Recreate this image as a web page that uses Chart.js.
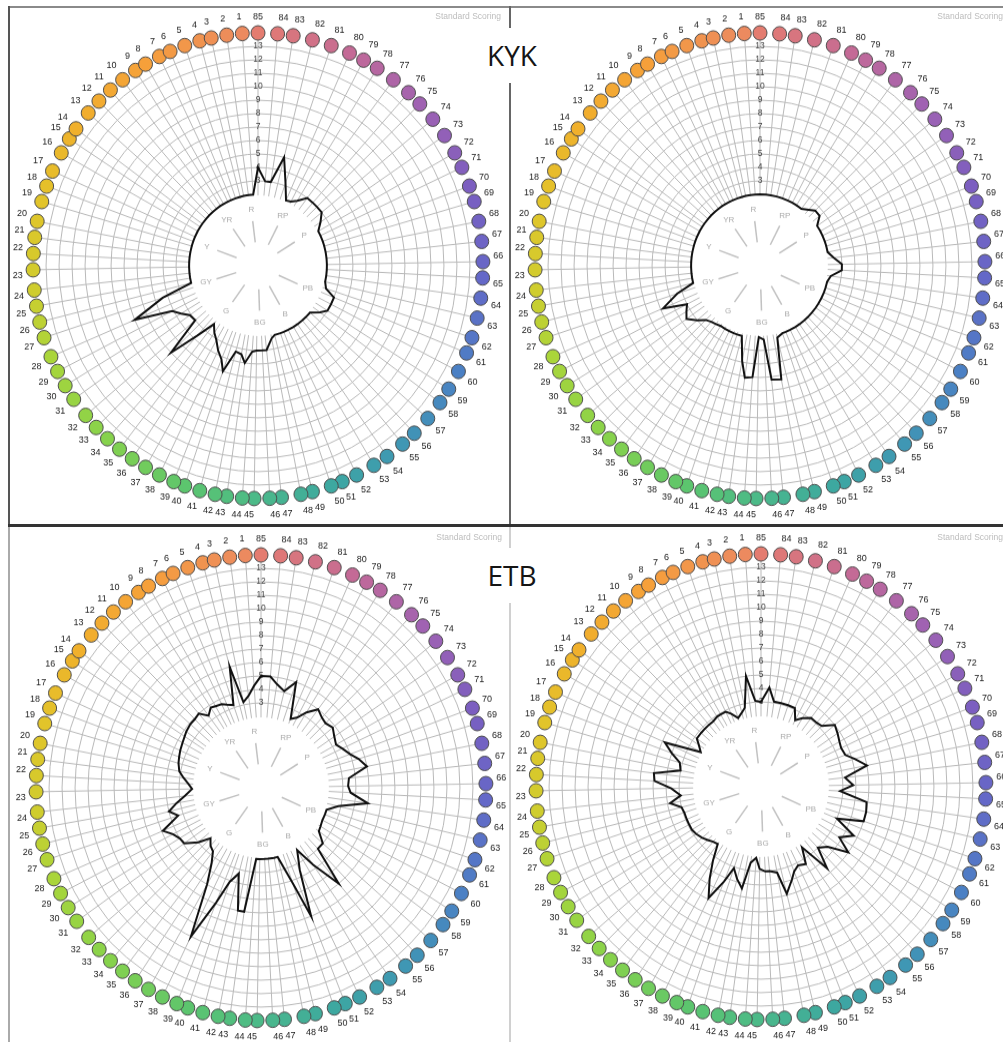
<!DOCTYPE html>
<html>
<head>
<meta charset="utf-8">
<script src="https://cdn.jsdelivr.net/npm/chart.js@4"></script>
<style>
  html, body { margin: 0; padding: 0; background: #fff; }
  body { width: 1003px; height: 1042px; position: relative; overflow: hidden; font-family: "Open Sans", sans-serif; }
  .rule { position: absolute; }
  .panel { position: absolute; width: 500px; height: 500px; transform: scaleY(1.035); transform-origin: 0 0; }
  .title { position: absolute; left: 482px; width: 60px; height: 55px; line-height: 55px; text-align: center; background: #fff; font-size: 28px; color: #151515; }
  .scoring { position: absolute; width: 120px; text-align: right; font-size: 8.5px; color: #bdbdbd; font-family: "Liberation Sans", sans-serif; }
</style>
</head>
<body>
<div class="rule" style="left:8px;top:6px;width:995px;height:2px;background:#8a8a8a"></div>
<div class="rule" style="left:8px;top:6px;width:2px;height:520px;background:#555"></div>
<div class="rule" style="left:509px;top:6px;width:2px;height:520px;background:#666"></div>
<div class="rule" style="left:8px;top:524px;width:995px;height:3px;background:#333"></div>
<div class="rule" style="left:8px;top:527px;width:2px;height:515px;background:#aaa"></div>
<div class="rule" style="left:509px;top:527px;width:2px;height:515px;background:#d0d0d0"></div>

<div class="panel" style="left:8px;top:8px"><canvas id="kykLeft" width="500" height="500"></canvas></div>
<div class="panel" style="left:510px;top:8px"><canvas id="kykRight" width="500" height="500"></canvas></div>
<div class="panel" style="left:11px;top:530px"><canvas id="etbLeft" width="500" height="500"></canvas></div>
<div class="panel" style="left:511px;top:529px"><canvas id="etbRight" width="500" height="500"></canvas></div>

<div class="title" style="top:28px">KYK</div>
<div class="title" style="top:548px">ETB</div>
<div class="scoring" style="left:381px;top:11px">Standard Scoring</div>
<div class="scoring" style="left:883px;top:11px">Standard Scoring</div>
<div class="scoring" style="left:382px;top:532px">Standard Scoring</div>
<div class="scoring" style="left:883px;top:532px">Standard Scoring</div>

<script>
// cap numbers of the 85-hue test
const capNumbers = [
  1, 2, 3, 4, 5, 6, 7, 8, 9, 10, 11, 12, 13, 14, 15, 16, 17, 18, 19, 20,
  21, 22, 23, 24, 25, 26, 27, 28, 29, 30, 31, 32, 33, 34, 35, 36, 37, 38, 39, 40,
  41, 42, 43, 44, 45, 46, 47, 48, 49, 50, 51, 52, 53, 54, 55, 56, 57, 58, 59, 60,
  61, 62, 63, 64, 65, 66, 67, 68, 69, 70, 71, 72, 73, 74, 75, 76, 77, 78, 79, 80,
  81, 82, 83, 84, 85
];

// hue angle (deg, clockwise from R at top) where each cap sits on the ring
const capHueAngle = [
  356, 352, 348, 345, 341, 337, 334, 330, 327, 323, 319, 315, 311, 306, 303, 299, 294, 290, 286, 281,
  277, 273, 269, 264, 260, 256, 252, 247, 243, 239, 235, 230, 226, 222, 218, 214, 210, 206, 202, 199,
  195, 191, 188, 184, 181, 177, 174, 169, 166, 161, 158, 154, 149, 145, 140, 136, 131, 126, 122, 117,
  112, 108, 103, 98, 93, 89, 84, 79, 74, 70, 65, 61, 56, 51, 46, 42, 37, 32, 28, 24,
  19, 14, 9, 5, 0
];

// error score per cap, caps 1..85
const kykLeft = [
  2, 2, 2, 2, 2, 2, 2, 2, 2, 2,
  2, 2, 2, 2, 2, 2, 2, 2, 2, 2,
  2, 2, 2, 2, 2, 2, 4.4, 7, 4.1, 3.6,
  3.1, 3, 6, 3.7, 2.2, 2.7, 3.1, 3.7, 4.2, 5,
  3.3, 3.4, 4, 3.1, 3, 3, 3, 2.2, 2, 2,
  2, 2, 2, 2, 2, 2, 2, 2.6, 3, 3,
  3, 2.2, 2, 2, 2, 2, 2, 2, 2, 2,
  2, 2, 2.5, 3, 3, 3, 3, 2.4, 2.1, 2,
  3.2, 5, 3, 3, 4
];
const kykRight = [
  2, 2, 2, 2, 2, 2, 2, 2, 2, 2,
  2, 2, 2, 2, 2, 2, 2, 2, 2, 2,
  2, 2, 2, 2, 2, 2, 3.4, 4.8, 3, 3.3,
  3.6, 3, 2.5, 2.3, 2.2, 2.1, 2.1, 2.1, 2.1, 2.1,
  2.1, 3.9, 5.1, 5, 2, 2.2, 5.2, 5.3, 2.2, 2,
  2, 2, 2, 2, 2, 2, 2, 2, 2, 2,
  2, 2, 2, 2.2, 3, 3, 2.4, 2, 2, 2,
  2, 2, 2, 2.6, 2.6, 2.3, 2, 2, 2, 2,
  2, 2, 2, 2, 2
];
const etbLeft = [
  4.3, 3.6, 3.2, 6, 3.2, 3.4, 3.6, 3.7, 3.8, 3.4,
  4, 3.9, 3.9, 3.8, 3.7, 3.6, 3.5, 3.4, 3.3, 3.1,
  2.7, 2.3, 2, 2.6, 3.3, 4, 3.4, 4.9, 4.3, 4,
  3.9, 3, 2.1, 2.5, 2.7, 3.5, 5, 9, 5.9, 4.1,
  3.3, 6, 6, 2, 2, 2, 2, 2, 2, 4.2,
  7, 3.5, 2.1, 3.7, 6, 3, 3, 2.2, 2.1, 2,
  2, 2, 2.8, 5, 3.6, 3.4, 3.5, 5, 4.5, 4,
  3.6, 3.3, 3.5, 3.8, 3.6, 3.7, 4, 3.3, 2.6, 2.3,
  5, 4.1, 4.5, 5, 5
];
const etbRight = [
  3.1, 5, 2.7, 2.4, 2.1, 2.6, 2.9, 2.9, 2.9, 2.8,
  2.8, 2.8, 2.8, 2.8, 2.4, 2, 4.8, 4, 3.2, 3,
  5, 4.9, 3.6, 2.9, 3.8, 3, 2.9, 2.9, 2.9, 2.9,
  2.8, 2.6, 2.4, 2.2, 2.1, 3.3, 4.6, 5.9, 4.3, 3.1,
  3.8, 4.4, 2.4, 2, 2.8, 3, 3, 3.2, 4.9, 4,
  3.5, 3.2, 3.4, 2.2, 4.6, 3, 3.5, 5, 3.8, 4.7,
  3, 5, 5, 4.9, 2.8, 3.8, 3.2, 5, 4.2, 3.6,
  3.5, 3.6, 3.8, 4, 3.2, 3.1, 3.1, 2.7, 2.3, 3.1,
  3.1, 3.1, 3.1, 4.1, 3
];

const tickValues = [3, 4, 5, 6, 7, 8, 9, 10, 11, 12, 13];
const hueNames = ['R', 'RP', 'P', 'PB', 'B', 'BG', 'G', 'GY', 'Y', 'YR'];
const hueAngles = [353, 27, 58, 114, 150, 178, 216, 253, 290, 325];

// cap swatch colours, by cap number
const capColorStops = [
  [1, '#ec8a5f'], [8, '#f6a03a'], [14, '#f0b02c'], [19, '#e2c42a'], [24, '#cfcd2e'],
  [28, '#aad53a'], [34, '#86d24c'], [40, '#5cc56e'], [45, '#4cba88'], [50, '#3da8a0'],
  [55, '#3f97b4'], [60, '#4b80c4'], [65, '#6468c8'], [70, '#7c5ec0'], [75, '#a062b2'],
  [80, '#c46a96'], [85, '#e47c70']
];

const SLOTS = 360;
const CAP_RING = 14;

function hexRgb(h) {
  return [1, 3, 5].map(i => parseInt(h.slice(i, i + 2), 16));
}
function capColor(n) {
  for (let i = 0; i < capColorStops.length - 1; i++) {
    const [n0, c0] = capColorStops[i];
    const [n1, c1] = capColorStops[i + 1];
    if (n >= n0 && n <= n1) {
      const t = (n - n0) / (n1 - n0);
      const a = hexRgb(c0), b = hexRgb(c1);
      const m = a.map((v, k) => Math.round(v + (b[k] - v) * t));
      return 'rgb(' + m.join(',') + ')';
    }
  }
  return capColorStops[0][1];
}

// spread the caps over a fine angular category axis
const slotLabels = new Array(SLOTS).fill('');
const slotColors = new Array(SLOTS).fill('transparent');
capNumbers.forEach((n, i) => {
  const s = capHueAngle[i] % SLOTS;
  slotLabels[s] = String(n);
  slotColors[s] = capColor(n);
});
function toSlots(values) {
  const out = new Array(SLOTS).fill(null);
  values.forEach((v, i) => { out[capHueAngle[i] % SLOTS] = v; });
  return out;
}

const hubPlugin = {
  id: 'hub',
  beforeDatasetsDraw(chart) {
    const s = chart.scales.r;
    const ctx = chart.ctx;
    const r0 = s.getDistanceFromCenterForValue(2);
    ctx.save();
    ctx.fillStyle = '#fff';
    ctx.beginPath();
    ctx.arc(s.xCenter, s.yCenter, r0 - 1, 0, Math.PI * 2);
    ctx.fill();
    ctx.strokeStyle = '#c2c2c2';
    ctx.lineWidth = 1.5;
    ctx.fillStyle = '#ababab';
    ctx.font = '8px "Liberation Sans", sans-serif';
    ctx.textAlign = 'center';
    ctx.textBaseline = 'middle';
    hueNames.forEach((name, i) => {
      const a = hueAngles[i] * Math.PI / 180;
      const dx = Math.sin(a), dy = -Math.cos(a);
      ctx.beginPath();
      ctx.moveTo(s.xCenter + dx * r0 * 0.33, s.yCenter + dy * r0 * 0.33);
      ctx.lineTo(s.xCenter + dx * r0 * 0.63, s.yCenter + dy * r0 * 0.63);
      ctx.stroke();
      ctx.fillText(name, s.xCenter + dx * r0 * 0.79, s.yCenter + dy * r0 * 0.79);
    });
    ctx.restore();
  }
};

function makeChart(id, values) {
  const ctx = document.getElementById(id).getContext('2d');
  return new Chart(ctx, {
    type: 'radar',
    data: {
      labels: slotLabels,
      datasets: [{
        label: 'Error score',
        data: toSlots(values),
        borderColor: '#111',
        borderWidth: 2,
        fill: false,
        spanGaps: true,
        pointRadius: 0,
        pointHitRadius: 0
      }, {
        label: 'Caps',
        data: toSlots(capNumbers.map(() => CAP_RING)),
        showLine: false,
        pointRadius: 7,
        pointBackgroundColor: slotColors,
        pointBorderColor: '#4d4d4d',
        pointBorderWidth: 1
      }]
    },
    options: {
      responsive: false,
      animation: false,
      events: [],
      layout: { padding: 4 },
      plugins: { legend: { display: false }, tooltip: { enabled: false } },
      scales: {
        r: {
          min: -3.3,
          max: 13.5,
          afterBuildTicks: (axis) => { axis.ticks = tickValues.map(v => ({ value: v })); },
          angleLines: {
            color: (c) => (c.label ? '#b9b9b9' : null),
            lineWidth: (c) => (c.label ? 1 : 0)
          },
          grid: { circular: true, color: '#b9b9b9', lineWidth: 1 },
          pointLabels: {
            padding: 10.5,
            color: '#222',
            font: { size: 9, family: '"Liberation Sans", sans-serif' }
          },
          ticks: {
            showLabelBackdrop: false,
            color: '#444',
            font: { size: 8.5, family: '"Liberation Sans", sans-serif' }
          }
        }
      }
    },
    plugins: [hubPlugin]
  });
}

makeChart('kykLeft', kykLeft);
makeChart('kykRight', kykRight);
makeChart('etbLeft', etbLeft);
makeChart('etbRight', etbRight);
</script>
</body>
</html>
